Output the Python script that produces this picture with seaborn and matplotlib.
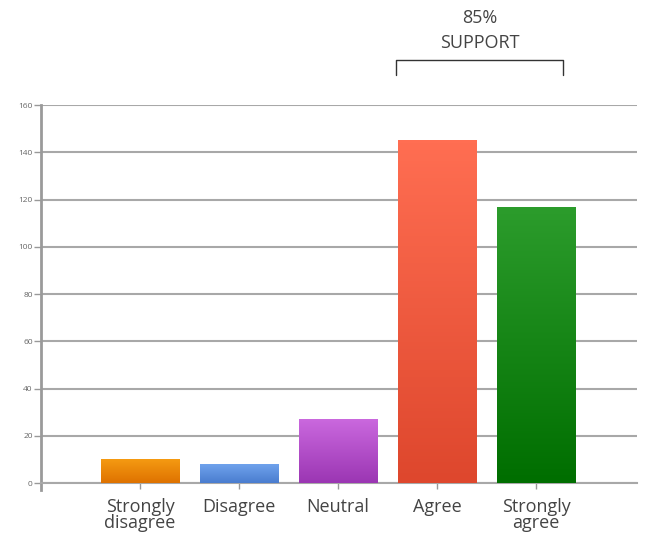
import numpy as np
import matplotlib
matplotlib.use("Agg")
import matplotlib.pyplot as plt
import matplotlib.transforms as mtransforms
from matplotlib.colors import LinearSegmentedColormap
import seaborn as sns

# data
categories = ["Strongly\ndisagree", "Disagree", "Neutral", "Agree", "Strongly\nagree"]
values = [10, 8, 27, 145, 117]
top_colors = ["#f59a12", "#6fa2ec", "#ca68de", "#ff6e52", "#2c9c2c"]
bottom_colors = ["#de7200", "#4a7dcf", "#9b36b3", "#de472d", "#006e00"]
yticks = [0, 20, 40, 60, 80, 100, 120, 140, 160]
support_label = "85%\nSUPPORT"

sns.set_style("white")
plt.rcParams["font.family"] = ["Open Sans", "DejaVu Sans"]

fig = plt.figure(figsize=(6.45, 5.33), dpi=100)
ax = fig.add_axes([0.0636, 0.0938, 0.924, 0.7092])

sns.barplot(x=categories, y=values, hue=categories, palette=top_colors,
            legend=False, width=0.79, ax=ax, zorder=3)

# vertical gradient fill for each bar
for patch, c_top, c_bot in zip(ax.patches, top_colors, bottom_colors):
    x0, y0 = patch.get_x(), patch.get_y()
    w, h = patch.get_width(), patch.get_height()
    cmap = LinearSegmentedColormap.from_list("g", [c_bot, c_top])
    grad = np.linspace(0, 1, 100).reshape(-1, 1)
    im = ax.imshow(grad, cmap=cmap, aspect="auto", origin="lower",
                   extent=[x0, x0 + w, y0, y0 + h], zorder=3.5)
    im.set_clip_path(patch)
    patch.set_edgecolor("none")

ax.set_xlim(-1, 5.02)
ax.set_ylim(0, 160)
ax.set_yticks(yticks)
ax.set_yticklabels([str(t) for t in yticks], fontsize=6, color="#666666")
ax.tick_params(axis="x", labelsize=13, colors="#999999", labelcolor="#444444",
               length=4, width=1, pad=7, direction="out", bottom=True)
ax.tick_params(axis="y", length=5, width=1, colors="#999999",
               labelcolor="#666666", direction="out", left=True, pad=1)
for lbl in ax.get_xticklabels():
    lbl.set_linespacing(0.85)
ax.yaxis.grid(True, color="#a8a8a8", linewidth=1.5, zorder=0)
ax.set_axisbelow(True)
for s in ["top", "right"]:
    ax.spines[s].set_visible(False)
ax.spines["left"].set_color("#9a9a9a")
ax.spines["left"].set_linewidth(2)
ax.spines["left"].set_bounds(-3, 160)
ax.spines["bottom"].set_color("#a8a8a8")
ax.spines["bottom"].set_linewidth(1.5)
ax.set_xlabel("")
ax.set_ylabel("")

# bracket above Agree / Strongly agree
trans = mtransforms.blended_transform_factory(ax.transData, ax.transAxes)
bx0, bx1 = 2.585, 4.27
ax.plot([bx0, bx0, bx1, bx1], [1.079, 1.119, 1.119, 1.079], color="#333333",
        linewidth=1, transform=trans, clip_on=False)
ax.text((bx0 + bx1) / 2, 1.197, support_label, transform=trans,
        ha="center", va="center", fontsize=13, color="#444444",
        linespacing=1.45)

fig.savefig("out.png", dpi=100)
